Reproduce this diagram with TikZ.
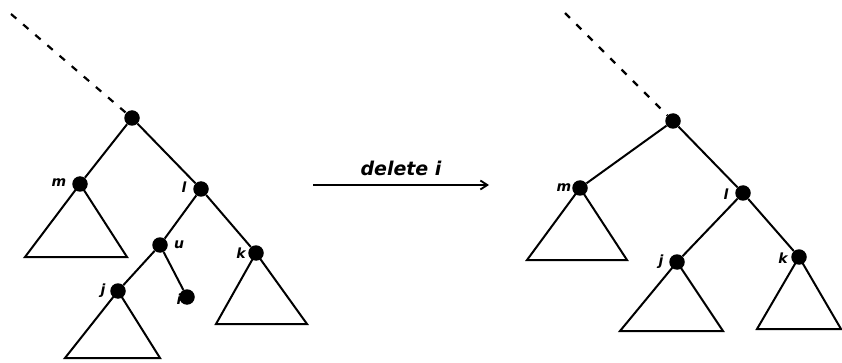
\documentclass[tikz,border=0pt]{standalone}
\usepackage{fontspec}
\setmainfont{DejaVu Sans}
\usetikzlibrary{arrows.meta}
\begin{document}
\begin{tikzpicture}[x=1pt,y=-1pt,
  dot/.style={circle,fill=black,inner sep=0pt,minimum size=15.5pt},
  edge/.style={line width=2pt},
  tri/.style={line width=2pt,line join=miter},
  lab/.style={font=\fontsize{14}{14}\selectfont\itshape\bfseries,inner sep=0pt},
  dsh/.style={line width=2.2pt,dash pattern=on 7pt off 9pt}]
\useasboundingbox (0,0) rectangle (842,363);
% left tree
\coordinate (ltop) at (11,14);
\node[dot] (lr) at (132,118) {};
\node[dot] (lm) at (80,184) {};
\node[dot] (ll) at (201,189) {};
\node[dot] (lu) at (160,245) {};
\node[dot] (lk) at (256,253) {};
\node[dot] (lj) at (118,291) {};
\node[lab] (li) at (179,299) {i};
\node[dot] (lil) at (187,297) {};
\node[lab] at (59,183) {m};
\node[lab] at (184,187) {l};
\node[lab] at (179,245) {u};
\node[lab] at (241,253) {k};
\node[lab] at (103,291) {j};
\draw[dsh] (ltop) -- (lr);
\draw[edge] (lr) -- (lm) (lr) -- (ll) (ll) -- (lu) (ll) -- (lk) (lu) -- (lj) (lu) -- (lil);
\coordinate (lma) at (25,257); \coordinate (lmb) at (127,257);
\coordinate (lja) at (65,358); \coordinate (ljb) at (160,358);
\coordinate (lka) at (216,324); \coordinate (lkb) at (307,324);
\draw[tri] (lm.center) -- (lma) -- (lmb) -- cycle;
\draw[tri] (lj.center) -- (lja) -- (ljb) -- cycle;
\draw[tri] (lk.center) -- (lka) -- (lkb) -- cycle;
% arrow
\coordinate (aa) at (313,185);
\coordinate (ab) at (489,185);
\draw[line width=1.6pt,-{Straight Barb[length=7pt,width=9pt,line width=1.8pt]}] (aa) -- (ab)
  node[midway,above=5pt,font=\fontsize{19}{19}\selectfont\itshape\bfseries] {delete i};
% right tree
\coordinate (rtop) at (565,13);
\node[dot] (rr) at (673,121) {};
\node[dot] (rm) at (580,188) {};
\node[dot] (rl) at (743,193) {};
\node[dot] (rj) at (677,262) {};
\node[dot] (rk) at (799,257) {};
\node[lab] at (564,188) {m};
\node[lab] at (726,194) {l};
\node[lab] at (661,262) {j};
\node[lab] at (783,258) {k};
\draw[dsh] (rtop) -- (rr);
\draw[edge] (rr) -- (rm) (rr) -- (rl) (rl) -- (rj) (rl) -- (rk);
\coordinate (rma) at (527,260); \coordinate (rmb) at (627,260);
\coordinate (rja) at (620,331); \coordinate (rjb) at (723,331);
\coordinate (rka) at (757,329); \coordinate (rkb) at (841,329);
\draw[tri] (rm.center) -- (rma) -- (rmb) -- cycle;
\draw[tri] (rj.center) -- (rja) -- (rjb) -- cycle;
\draw[tri] (rk.center) -- (rka) -- (rkb) -- cycle;
\end{tikzpicture}
\end{document}
